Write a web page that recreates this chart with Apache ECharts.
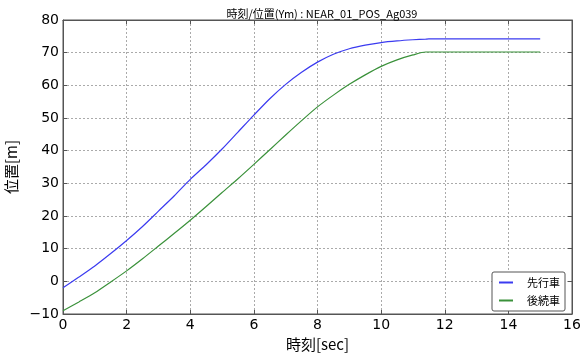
<!DOCTYPE html>
<html>
<head>
<meta charset="utf-8">
<script src="https://cdn.jsdelivr.net/npm/echarts@6/dist/echarts.min.js"></script>
<style>
  html, body { margin: 0; padding: 0; background: #fff; }
  #chart { width: 585px; height: 353px; }
</style>
</head>
<body>
<div id="chart"></div>
<script>
// 時刻 [sec]
var times = [0, 0.5, 1, 1.5, 2, 2.5, 3, 3.5, 4, 4.5, 5, 5.5, 6, 6.5, 7, 7.5, 8, 8.5, 9, 9.5, 10, 10.5, 11, 11.4, 11.5, 12, 13, 14, 15];
// 先行車 位置 [m]
var leadPos = [-2, 1.3, 4.7, 8.5, 12.5, 16.8, 21.5, 26.2, 31.2, 35.7, 40.5, 45.7, 50.9, 55.9, 60.3, 64.0, 67.1, 69.5, 71.2, 72.3, 73.1, 73.6, 73.95, 74.15, 74.2, 74.2, 74.2, 74.2, 74.2];
// 後続車 位置 [m]
var followPos = [-9, -6.3, -3.5, -0.2, 3.2, 6.9, 10.8, 14.7, 18.7, 22.9, 27.2, 31.4, 35.8, 40.3, 44.8, 49.2, 53.4, 57.0, 60.3, 63.2, 65.8, 67.8, 69.3, 70.2, 70.2, 70.2, 70.2, 70.2, 70.2];

var names = ['先行車', '後続車'];
var colors = ['#3b3bf0', '#3a913a'];

function pairs(ys) {
    return times.map(function (t, i) { return [t, ys[i]]; });
}

var chart = echarts.init(document.getElementById('chart'));

var labelFont = 'DejaVu Sans';
var cjkFont = '"Noto Sans CJK JP"';

var option = {
    backgroundColor: '#fff',
    animation: false,
    title: {
        text: '時刻/位置(Ym) : NEAR_01_POS_Ag039',
        left: 317,
        textAlign: 'center',
        top: 3,
        textStyle: { fontSize: 11, fontWeight: 'normal', color: '#000', fontFamily: cjkFont }
    },
    grid: {
        left: 63, right: 13, top: 20, bottom: 39,
        outerBoundsMode: 'none', containLabel: false,
        show: true, borderColor: '#555', borderWidth: 1
    },
    legend: {
        data: names,
        orient: 'vertical',
        right: 20, bottom: 42,
        backgroundColor: '#fff',
        borderColor: '#555', borderWidth: 1, borderRadius: 2,
        padding: [5, 5, 5, 7],
        itemGap: 7,
        itemWidth: 14, itemHeight: 2,
        icon: 'rect',
        textStyle: { fontSize: 11, color: '#000', fontFamily: cjkFont, padding: [0, 0, 0, 9] }
    },
    xAxis: [{
        type: 'value', min: 0, max: 16, interval: 2,
        name: '時刻[sec]', nameLocation: 'middle', nameGap: 19,
        nameTextStyle: { fontSize: 15, color: '#000', fontFamily: cjkFont },
        axisLine: { show: true, onZero: false, lineStyle: { color: '#555' } },
        axisTick: { show: true, inside: true, length: 4, lineStyle: { color: '#555' } },
        axisLabel: { fontSize: 14, color: '#000', fontFamily: labelFont, margin: 4 },
        splitLine: { show: true, lineStyle: { color: '#aaa', type: [2, 2] } }
    }, {
        type: 'value', min: 0, max: 16, interval: 2, position: 'top',
        axisLine: { show: true, onZero: false, lineStyle: { color: '#555' } },
        axisTick: { show: true, inside: true, length: 4, lineStyle: { color: '#555' } },
        axisLabel: { show: false },
        splitLine: { show: false }
    }],
    yAxis: [{
        type: 'value', min: -10, max: 80, interval: 10,
        name: '位置[m]', nameLocation: 'middle', nameGap: 30, nameRotate: 90,
        nameTextStyle: { fontSize: 15, color: '#000', fontFamily: cjkFont },
        axisLine: { show: true, onZero: false, lineStyle: { color: '#555' } },
        axisTick: { show: true, inside: true, length: 4, lineStyle: { color: '#555' } },
        axisLabel: {
            fontSize: 14, color: '#000', fontFamily: labelFont, margin: 4,
            formatter: function (v) { return v < 0 ? '\u2212' + Math.abs(v) : String(v); }
        },
        splitLine: { show: true, lineStyle: { color: '#aaa', type: [2, 2] } }
    }, {
        type: 'value', min: -10, max: 80, interval: 10, position: 'right',
        axisLine: { show: true, onZero: false, lineStyle: { color: '#555' } },
        axisTick: { show: true, inside: true, length: 4, lineStyle: { color: '#555' } },
        axisLabel: { show: false },
        splitLine: { show: false }
    }],
    series: [{
        name: names[0], type: 'line', data: pairs(leadPos),
        showSymbol: false, symbol: 'none', smooth: 0.25,
        lineStyle: { color: colors[0], width: 1.2 }, itemStyle: { color: colors[0] }
    }, {
        name: names[1], type: 'line', data: pairs(followPos),
        showSymbol: false, symbol: 'none', smooth: 0.25,
        lineStyle: { color: colors[1], width: 1.2 }, itemStyle: { color: colors[1] }
    }]
};

chart.setOption(option);
</script>
</body>
</html>
